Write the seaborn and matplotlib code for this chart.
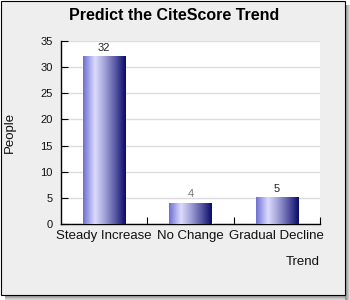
import numpy as np
import matplotlib
matplotlib.use("Agg")
import matplotlib.pyplot as plt
from matplotlib.colors import LinearSegmentedColormap
from matplotlib.patches import Rectangle
import seaborn as sns

categories = ["Steady Increase", "No Change", "Gradual Decline"]
values = [32, 4, 5]
label_colors = ["#222222", "#777777", "#222222"]
yticks = [0, 5, 10, 15, 20, 25, 30, 35]

sns.set_theme(style="white")
plt.rcParams["font.family"] = ["Liberation Sans", "DejaVu Sans"]

W, H = 350, 300
fig = plt.figure(figsize=(W / 100, H / 100), dpi=100, facecolor="white")

def fx(x):
    return x / W

def fy(y):
    return 1 - y / H

# frame, background and shadow
shadow = ["#8a8a8a", "#9e9e9e", "#b2b2b2", "#c6c6c6", "#dadada", "#eeeeee"]
for i, c in enumerate(shadow):
    fig.patches.append(Rectangle((fx(345 + i), fy(300)), 1 / W, (300 - 5) / H,
                                 transform=fig.transFigure, facecolor=c,
                                 edgecolor="none", zorder=-10))
    fig.patches.append(Rectangle((fx(5), fy(295 + i + 1)), (345 - 5) / W, 1 / H,
                                 transform=fig.transFigure, facecolor=c,
                                 edgecolor="none", zorder=-10))
fig.patches.append(Rectangle((fx(0.5), fy(294.5)), 344 / W, 294 / H,
                             transform=fig.transFigure, facecolor="#eeeeee",
                             edgecolor="black", linewidth=0.8, zorder=-9))

# axes: plot area x 61..320, y 41..224
ax = fig.add_axes([fx(61), fy(224), (320 - 61) / W, (224 - 41) / H])
ax.set_zorder(1)
ax.set_facecolor("white")

sns.barplot(x=categories, y=values, width=0.49, ax=ax, color="#8888cc", zorder=3)

cmap = LinearSegmentedColormap.from_list(
    "barg", [(0.0, "#6e6ed2"), (0.28, "#dcdcff"), (0.5, "#a4a4d8"),
             (0.75, "#5a5aa6"), (1.0, "#0a0a68")])
grad = np.linspace(0, 1, 256).reshape(1, -1)
for p in ax.patches:
    x0, y0 = p.get_x(), p.get_y()
    w, h = p.get_width(), p.get_height()
    ax.imshow(grad, extent=[x0, x0 + w, y0, y0 + h], aspect="auto",
              cmap=cmap, zorder=3.5, interpolation="bilinear")
    p.set_facecolor("none")

for i, (v, c) in enumerate(zip(values, label_colors)):
    ax.annotate(str(v), (i, v), xytext=(0, 2.6), textcoords="offset points",
                ha="center", va="bottom", fontsize=8, color=c, zorder=5)

ax.set_xlim(-0.5, 2.5)
ax.set_ylim(0, 35)
ax.set_yticks(yticks)
ax.set_yticklabels([str(t) for t in yticks])
ax.set_xticks(range(len(categories)))
ax.set_xticklabels(categories)
ax.set_xticks([0.5, 1.5, 2.5], minor=True)

ax.grid(axis="y", color="#dddddd", linewidth=1.0, zorder=0)
ax.set_axisbelow(True)
for s in ["top", "right"]:
    ax.spines[s].set_visible(False)
for s in ["left", "bottom"]:
    ax.spines[s].set_color("black")
    ax.spines[s].set_linewidth(1.0)

ax.tick_params(axis="y", direction="in", length=5, width=0.8, color="black",
               labelsize=8, pad=6, left=True, labelcolor="#111111")
ax.tick_params(axis="x", which="major", length=0, labelsize=9.5, pad=4,
               labelcolor="#111111")
ax.tick_params(axis="x", which="minor", direction="in", length=5, width=0.8,
               color="black", bottom=True)

ax.set_xlabel("Trend", loc="right", fontsize=9.5, color="#111111")
ax.xaxis.set_label_coords(1.0, -0.175)
ax.set_ylabel("")

fig.text(fx(10), fy(132), "People", rotation=90, ha="center", va="center",
         fontsize=9.5, color="#111111")
fig.text(fx(174), fy(16), "Predict the CiteScore Trend", ha="center", va="center",
         fontsize=11.5, fontweight="bold", color="black")

fig.savefig("out.png", dpi=100, facecolor="white")
